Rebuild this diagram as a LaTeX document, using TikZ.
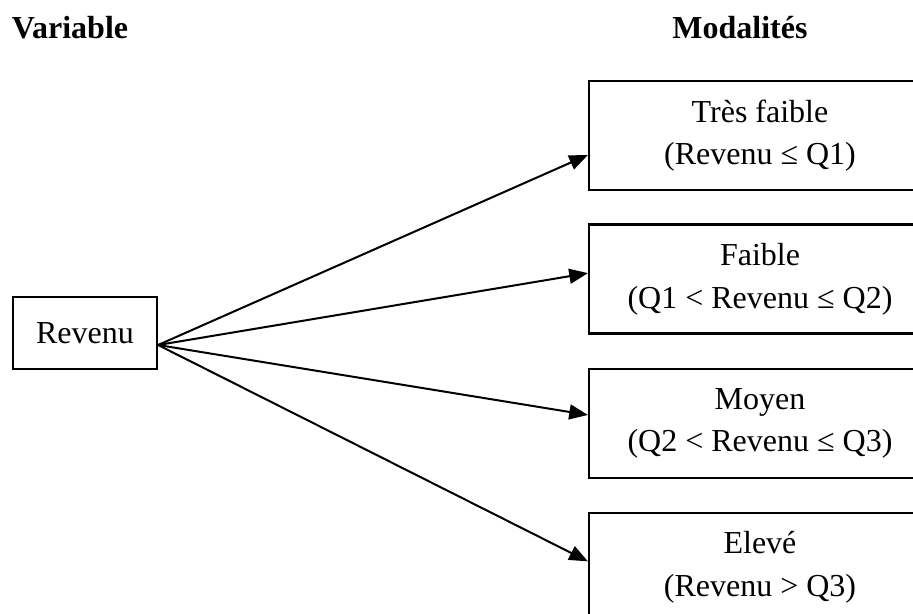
\documentclass[tikz,border=0pt]{standalone}
\usepackage{fontspec}
\setmainfont{Liberation Serif}
\usetikzlibrary{arrows.meta}

\begin{document}
\begin{tikzpicture}[x=0.375pt,y=-0.375pt]
    \tikzset{%
      box/.style={draw, line width=0.8pt, inner sep=0pt, align=center,
        font=\fontsize{12}{16}\selectfont},
      mod/.style={box, minimum width=128.25pt, minimum height=40.9pt},
      head/.style={anchor=base, font=\fontsize{12}{14}\selectfont\bfseries},
      fleche/.style={line width=0.75pt, -{Triangle[length=7pt,width=5.6pt]}},
    }
    \clip (0,0) rectangle (913,614);
    \node[head] (H1) at (70,38) {Variable};
    \node[head] (H2) at (740,38) {Modalités};

    \node[box, minimum width=54pt, minimum height=27pt] (R) at (85,333) {Revenu};

    \node[mod] (M1) at (760,135.5) {Très faible\\(Revenu ≤ Q1)};
    \node[mod] (M2) at (760,279) {Faible\\(Q1 < Revenu ≤ Q2)};
    \node[mod] (M3) at (760,423.5) {Moyen\\(Q2 < Revenu ≤ Q3)};
    \node[mod] (M4) at (760,567.5) {Elevé\\(Revenu > Q3)};

    \draw [fleche] ([yshift=-4.5pt]R.east) -- ([yshift=-7.3pt]M1.west);
    \draw [fleche] ([yshift=-4.5pt]R.east) -- ([yshift=2.2pt]M2.west);
    \draw [fleche] ([yshift=-4.5pt]R.east) -- ([yshift=3.2pt]M3.west);
    \draw [fleche] ([yshift=-4.5pt]R.east) -- ([yshift=2.3pt]M4.west);
\end{tikzpicture}
\end{document}
